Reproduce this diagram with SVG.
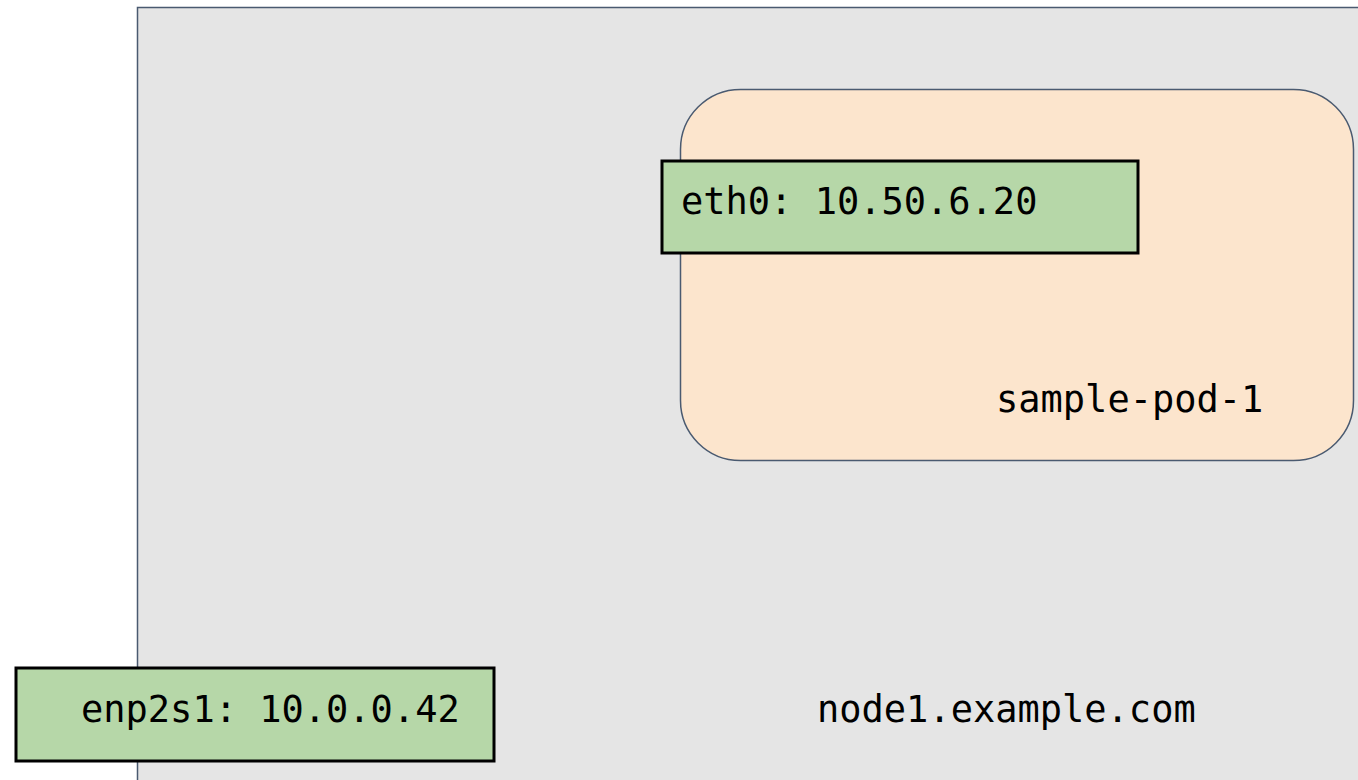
<svg xmlns="http://www.w3.org/2000/svg" width="1358" height="780" viewBox="0 0 1358 780">
  <style>
    .lbl { font-family: "DejaVu Sans Mono", "Liberation Mono", monospace; font-size: 37px; fill: #000000; }
    .iface { fill: #b6d7a8; stroke: #000000; stroke-width: 3; }
  </style>
  <rect x="0" y="0" width="1358" height="780" fill="#ffffff"/>
  <g id="node1">
    <rect x="137.5" y="7.5" width="1240" height="800" fill="#e5e5e5" stroke="#4a5a70" stroke-width="1.5"/>
    <text class="lbl" x="817" y="722">node1.example.com</text>
  </g>
  <g id="sample-pod-1">
    <rect x="680.5" y="89.5" width="673" height="371" rx="60" ry="60" fill="#fce5cd" stroke="#4a5a70" stroke-width="1.5"/>
    <text class="lbl" x="996" y="412">sample-pod-1</text>
  </g>
  <g id="eth0">
    <rect class="iface" x="662" y="161" width="476" height="92"/>
    <text class="lbl" x="681" y="214">eth0: 10.50.6.20</text>
  </g>
  <g id="enp2s1">
    <rect class="iface" x="16" y="668" width="478" height="93"/>
    <text class="lbl" x="81" y="722">enp2s1: 10.0.0.42</text>
  </g>
  <g id="connectors"></g>
</svg>
